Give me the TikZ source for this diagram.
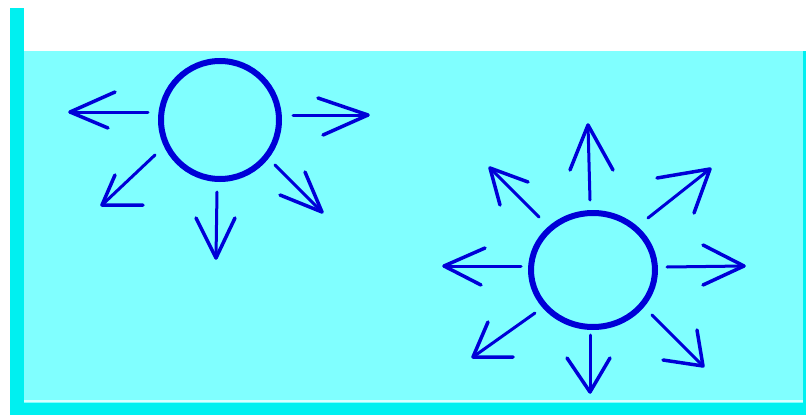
\documentclass[tikz,border=0pt]{standalone}
\definecolor{water}{RGB}{128,255,255}
\definecolor{wall}{RGB}{0,240,240}
\definecolor{sunblue}{RGB}{0,0,215}
\tikzset{
  shaft/.style={draw=sunblue,line width=3pt,line cap=round},
  barb/.style={draw=sunblue,line width=3.5pt,line cap=round,line join=round},
  ring/.style={draw=sunblue,line width=6pt},
}
\begin{document}
\begin{tikzpicture}[x=1pt,y=-1pt]
\useasboundingbox (0,0) rectangle (806,415);
\fill[white] (0,0) rectangle (806,415);
% water
\fill[water] (24,51) rectangle (806,403);
\draw[white,line width=1.2pt,opacity=0.7] (24,401) -- (806,401);
% walls
\fill[wall] (10,8) rectangle (24,415);
\fill[wall] (10,403) rectangle (806,415);
\fill[wall] (803,51) rectangle (806,403);
% sun 1
\draw[ring] (220,120) circle[radius=59];
\foreach \n/\sx/\sy/\tx/\ty/\ax/\ay/\bx/\by in {
  L/148/112/70/112/115/92/108/128,
  R/293/115/368/115/318/98/323/135,
  LL/155/155/102/205/115/175/143/205,
  D/217/192/216/258/196/218/235/218,
  LR/275/165/322/212/305/172/280/195}{
  \coordinate (s1\n) at (\sx,\sy);
  \coordinate (t1\n) at (\tx,\ty);
  \coordinate (a1\n) at (\ax,\ay);
  \coordinate (b1\n) at (\bx,\by);
  \draw[shaft] (s1\n) -- (t1\n);
  \draw[barb] (a1\n) -- (t1\n) -- (b1\n);
}
% sun 2
\draw[ring] (593,270) ellipse[x radius=62,y radius=57];
\foreach \n/\sx/\sy/\tx/\ty/\ax/\ay/\bx/\by in {
  U/590/200/588/125/570/170/613/170,
  UL/539/217/490/168/528/182/500/205,
  UR/648/218/710/169/657/178/694/213,
  L/521/266/444/266/485/248/481/285,
  R/667/267/744/266/703/245/703/285,
  LL/535/313/473/357/488/322/513/357,
  D/590/335/590/392/567/358/610/358,
  LR/652/315/703/366/697/330/663/360}{
  \coordinate (s2\n) at (\sx,\sy);
  \coordinate (t2\n) at (\tx,\ty);
  \coordinate (a2\n) at (\ax,\ay);
  \coordinate (b2\n) at (\bx,\by);
  \draw[shaft] (s2\n) -- (t2\n);
  \draw[barb] (a2\n) -- (t2\n) -- (b2\n);
}
\end{tikzpicture}
\end{document}
